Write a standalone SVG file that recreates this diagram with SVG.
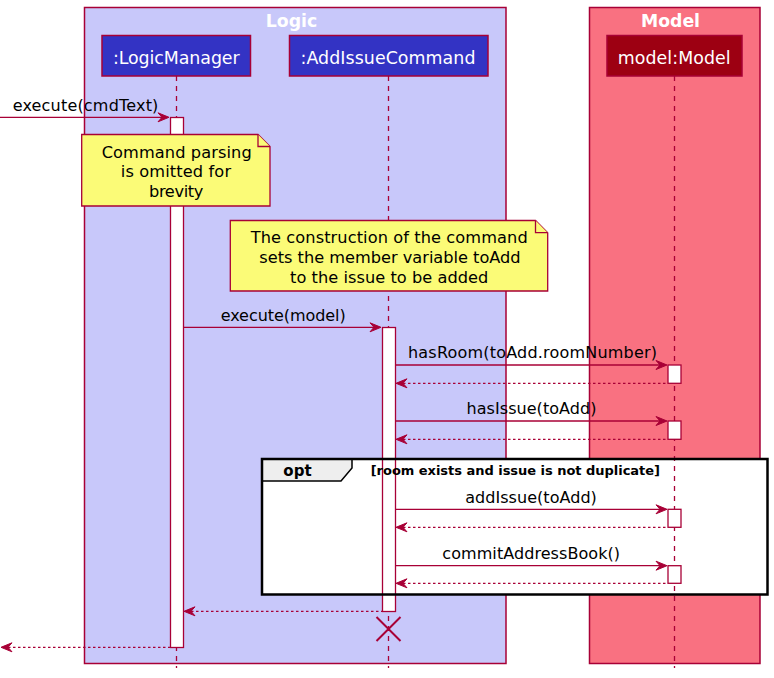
<svg xmlns="http://www.w3.org/2000/svg" width="774" height="678" viewBox="0 0 774 678">
<defs>
<style>
text{font-family:"DejaVu Sans","Verdana",sans-serif;}
.box{stroke:#A80036;stroke-width:1.5;}
.title{font-weight:bold;font-size:17.3px;fill:#FFFFFF;text-anchor:middle;}
.part{stroke:#A80036;stroke-width:1.5;}
.ptext{font-size:17.4px;fill:#FFFFFF;text-anchor:middle;}
.life{stroke:#A80036;stroke-width:1.3;stroke-dasharray:5,5;fill:none;}
.act{fill:#FFFFFF;stroke:#A80036;stroke-width:1.3;}
.note{fill:#FBFB77;stroke:#A80036;stroke-width:1.3;}
.ntext{font-size:16.2px;fill:#000000;text-anchor:middle;}
.msg{stroke:#A80036;stroke-width:1.3;fill:none;}
.ret{stroke:#A80036;stroke-width:1.3;fill:none;stroke-dasharray:2.5,2.5;}
.mtext{font-size:16px;fill:#000000;text-anchor:middle;}
.head{fill:#A80036;stroke:#A80036;stroke-width:1;}
</style>
</defs>
<rect width="774" height="678" fill="#FFFFFF"/>
<g id="box-logic">
<rect class="box" x="84.5" y="7.5" width="421.5" height="656" fill="#C8C8FA"/>
<text class="title" x="291.5" y="26.7">Logic</text>
</g>
<g id="box-model">
<rect class="box" x="589.5" y="7.5" width="170.5" height="656" fill="#F97181"/>
<text class="title" x="670.5" y="26.7">Model</text>
</g>
<g id="opt-frame-bg">
<rect x="262" y="459" width="505.5" height="135.5" fill="#FFFFFF"/>
</g>
<g id="lifelines">
<line class="life" x1="176.5" y1="76" x2="176.5" y2="668"/>
<line class="life" x1="388.5" y1="76" x2="388.5" y2="668"/>
<line class="life" x1="674.5" y1="76" x2="674.5" y2="668"/>
</g>
<g id="p-logicmanager">
<rect class="part" x="102" y="35.5" width="148.5" height="40.5" fill="#3333C4"/>
<text class="ptext" x="176.3" y="63.5" textLength="126.7">:LogicManager</text>
</g>
<g id="p-addissuecommand">
<rect class="part" x="289.5" y="35.5" width="198.5" height="40.5" fill="#3333C4"/>
<text class="ptext" x="388" y="63.5" textLength="175">:AddIssueCommand</text>
</g>
<g id="p-model">
<rect class="part" x="607" y="35.5" width="135" height="40.5" fill="#9D0012"/>
<text class="ptext" x="674.2" y="63.5" textLength="113">model:Model</text>
</g>
<g id="activations">
<rect class="act" x="170.5" y="117.5" width="13" height="530"/>
<rect class="act" x="382.5" y="327.5" width="13" height="284"/>
<rect class="act" x="668" y="365" width="13" height="18.3"/>
<rect class="act" x="668" y="421" width="13" height="18.3"/>
<rect class="act" x="668" y="509.3" width="13" height="18"/>
<rect class="act" x="668" y="565.7" width="13" height="17.6"/>
</g>
<g id="note-parsing">
<path class="note" d="M81.7,134.5 H258 L270,146.5 V206 H81.7 Z"/>
<path class="note" d="M258,134.5 V146.5 H270" fill="none"/>
<text class="ntext" x="176.7" y="157.5" textLength="150">Command parsing</text>
<text class="ntext" x="175.9" y="177" textLength="110.3">is omitted for</text>
<text class="ntext" x="176.2" y="196.5" textLength="54.3">brevity</text>
</g>
<g id="note-construction">
<path class="note" d="M230.3,220.5 H535.5 L547.7,232.7 V291 H230.3 Z"/>
<path class="note" d="M535.5,220.5 V232.7 H547.7" fill="none"/>
<text class="ntext" x="389.2" y="243" textLength="277">The construction of the command</text>
<text class="ntext" x="390" y="263" textLength="261.3">sets the member variable toAdd</text>
<text class="ntext" x="389.2" y="282.7" textLength="198.3">to the issue to be added</text>
</g>
<g id="connectors">
<line class="msg" x1="0" y1="117.3" x2="167" y2="117.3"/>
<polygon class="head" points="158,112.8 169,117.3 158,121.8 162,117.3"/>
<text class="mtext" x="85.5" y="110.7" textLength="145.7">execute(cmdText)</text>

<line class="msg" x1="183.5" y1="327.3" x2="379" y2="327.3"/>
<polygon class="head" points="370,322.8 381,327.3 370,331.8 374,327.3"/>
<text class="mtext" x="283.2" y="320.7" textLength="125">execute(model)</text>

<line class="msg" x1="395.5" y1="365" x2="665" y2="365"/>
<polygon class="head" points="656,360.5 667,365 656,369.5 660,365"/>
<text class="mtext" x="532.5" y="358.3" textLength="249">hasRoom(toAdd.roomNumber)</text>
<line class="ret" x1="398" y1="383.3" x2="668" y2="383.3"/>
<polygon class="head" points="407,378.8 396,383.3 407,387.8 403,383.3"/>

<line class="msg" x1="395.5" y1="421" x2="665" y2="421"/>
<polygon class="head" points="656,416.5 667,421 656,425.5 660,421"/>
<text class="mtext" x="531.5" y="414.3" textLength="130">hasIssue(toAdd)</text>
<line class="ret" x1="398" y1="439.3" x2="668" y2="439.3"/>
<polygon class="head" points="407,434.8 396,439.3 407,443.8 403,439.3"/>

<line class="msg" x1="395.5" y1="509.3" x2="665" y2="509.3"/>
<polygon class="head" points="656,504.8 667,509.3 656,513.8 660,509.3"/>
<text class="mtext" x="531" y="502.6" textLength="131.7">addIssue(toAdd)</text>
<line class="ret" x1="398" y1="527.3" x2="668" y2="527.3"/>
<polygon class="head" points="407,522.8 396,527.3 407,531.8 403,527.3"/>

<line class="msg" x1="395.5" y1="565.7" x2="665" y2="565.7"/>
<polygon class="head" points="656,561.2 667,565.7 656,570.2 660,565.7"/>
<text class="mtext" x="531.2" y="559" textLength="177.7">commitAddressBook()</text>
<line class="ret" x1="398" y1="583.3" x2="668" y2="583.3"/>
<polygon class="head" points="407,578.8 396,583.3 407,587.8 403,583.3"/>

<line class="ret" x1="186" y1="611.3" x2="382.5" y2="611.3"/>
<polygon class="head" points="195,606.8 184,611.3 195,615.8 191,611.3"/>

<line class="ret" x1="3" y1="647.3" x2="170.5" y2="647.3"/>
<polygon class="head" points="12,642.8 1,647.3 12,651.8 8,647.3"/>

<g id="destroy">
<line x1="376.5" y1="617" x2="400.5" y2="641" stroke="#A80036" stroke-width="2"/>
<line x1="400.5" y1="617" x2="376.5" y2="641" stroke="#A80036" stroke-width="2"/>
</g>
</g>
<g id="opt-frame">
<path d="M262,459 H352 V468 L341,481 H262 Z" fill="#EEEEEE" stroke="#000000" stroke-width="1.5"/>
<rect x="262" y="459" width="505.5" height="135.5" fill="none" stroke="#000000" stroke-width="2.5"/>
<text x="283.3" y="475.7" font-size="15px" font-weight="bold" fill="#000000" textLength="28.3">opt</text>
<text x="370.7" y="474.5" font-size="13px" font-weight="bold" fill="#000000" textLength="289.3">[room exists and issue is not duplicate]</text>
</g>
</svg>
